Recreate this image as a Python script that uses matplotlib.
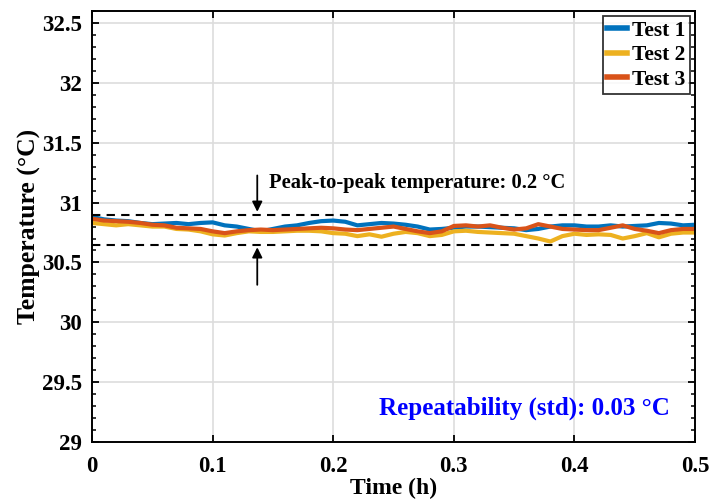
import numpy as np
import matplotlib.pyplot as plt
from matplotlib.ticker import MultipleLocator

plt.rcParams['font.family'] = ['Liberation Serif', 'DejaVu Serif']
plt.rcParams['font.weight'] = 'bold'

# time axis (h), sampled every 0.01 h
t = np.linspace(0, 0.5, 51)

test1 = [30.88, 30.86, 30.85, 30.845, 30.83, 30.82, 30.825, 30.83, 30.82, 30.83,
         30.835, 30.81, 30.80, 30.78, 30.76, 30.78, 30.80, 30.81, 30.83, 30.845,
         30.85, 30.84, 30.81, 30.82, 30.83, 30.825, 30.815, 30.80, 30.775, 30.78,
         30.79, 30.80, 30.80, 30.795, 30.79, 30.785, 30.77, 30.78, 30.80, 30.81,
         30.81, 30.80, 30.80, 30.81, 30.80, 30.805, 30.81, 30.83, 30.825, 30.81, 30.815]
test2 = [30.83, 30.82, 30.81, 30.82, 30.81, 30.80, 30.80, 30.78, 30.775, 30.76,
         30.735, 30.725, 30.745, 30.76, 30.755, 30.755, 30.76, 30.765, 30.765, 30.76,
         30.745, 30.74, 30.72, 30.735, 30.715, 30.74, 30.755, 30.745, 30.72, 30.73,
         30.76, 30.765, 30.755, 30.75, 30.745, 30.74, 30.72, 30.70, 30.675, 30.72,
         30.74, 30.73, 30.735, 30.73, 30.70, 30.72, 30.745, 30.71, 30.74, 30.75, 30.75]
test3 = [30.865, 30.85, 30.845, 30.84, 30.83, 30.815, 30.81, 30.79, 30.785, 30.78,
         30.76, 30.745, 30.76, 30.77, 30.775, 30.77, 30.775, 30.78, 30.785, 30.79,
         30.785, 30.775, 30.77, 30.78, 30.79, 30.80, 30.78, 30.76, 30.745, 30.76,
         30.805, 30.81, 30.80, 30.81, 30.79, 30.775, 30.785, 30.82, 30.80, 30.78,
         30.775, 30.77, 30.77, 30.79, 30.81, 30.78, 30.765, 30.745, 30.77, 30.78, 30.78]

p2p_high = 30.9
p2p_low = 30.65

fig = plt.figure(figsize=(7.1, 5.04), dpi=100)
ax = fig.add_axes([0.1296, 0.123, 0.8494, 0.855])

ax.plot(t, test1, color='#0072BD', lw=3, label='Test 1')
ax.plot(t, test2, color='#EDB120', lw=3, label='Test 2')
ax.plot(t, test3, color='#D95319', lw=3, label='Test 3')

ax.axhline(p2p_high, color='black', ls=(0, (4, 3)), lw=1.5)
ax.axhline(p2p_low, color='black', ls=(0, (4, 3)), lw=1.5)

ax.annotate('', xy=(0.137, p2p_high), xytext=(0.137, 31.25),
            arrowprops=dict(arrowstyle='-|>', color='black', lw=1.3, mutation_scale=15))
ax.annotate('', xy=(0.137, p2p_low), xytext=(0.137, 30.29),
            arrowprops=dict(arrowstyle='-|>', color='black', lw=1.3, mutation_scale=15))
ax.text(0.147, 31.16, 'Peak-to-peak temperature: 0.2 \u00b0C', fontsize=14.8,
        fontweight='bold', va='center', ha='left')
ax.text(0.479, 29.28, 'Repeatability (std): 0.03 \u00b0C', fontsize=18,
        fontweight='bold', color='#0000FF', va='center', ha='right')

ax.set_xlim(0, 0.5)
ax.set_ylim(29, 32.6)
ax.set_xticks([0, 0.1, 0.2, 0.3, 0.4, 0.5])
ax.set_xticklabels(['0', '0.1', '0.2', '0.3', '0.4', '0.5'])
ax.set_yticks([29, 29.5, 30, 30.5, 31, 31.5, 32, 32.5])
ax.set_yticklabels(['29', '29.5', '30', '30.5', '31', '31.5', '32', '32.5'])
ax.yaxis.set_minor_locator(MultipleLocator(0.1))
ax.tick_params(which='both', direction='in', top=True, right=True, labelsize=16.5)
ax.tick_params(which='major', length=5, width=1.3)
ax.tick_params(which='minor', length=3, width=1.1)
ax.tick_params(axis='x', pad=10)
ax.tick_params(axis='y', pad=7)
ax.grid(True, which='major', color='#DDDDDD', lw=1.2)
ax.set_axisbelow(True)
for s in ax.spines.values():
    s.set_linewidth(1.4)

ax.set_xlabel('Time (h)', fontsize=17, fontweight='bold', labelpad=1)
ax.set_ylabel('Temperature (\u00b0C)', fontsize=18.5, fontweight='bold', labelpad=1)

leg = ax.legend(loc='upper right', fontsize=15.5, frameon=True, fancybox=False,
                handlelength=0.9, handletextpad=0.25, borderpad=0.2,
                labelspacing=0.2, borderaxespad=0.25)
leg.get_frame().set_edgecolor('black')
leg.get_frame().set_linewidth(1.3)
for line in leg.get_lines():
    line.set_linewidth(4)

fig.savefig('out.png', dpi=100)
